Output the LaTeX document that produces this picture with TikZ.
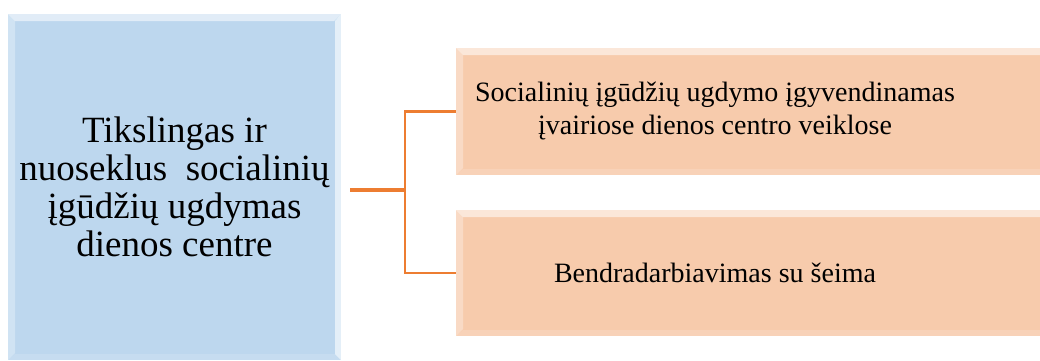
\documentclass[tikz,border=0pt]{standalone}
\usepackage{fontspec}
\setmainfont{Liberation Serif}
\usetikzlibrary{calc}
\definecolor{goalblue}{RGB}{189,215,238}
\definecolor{partpeach}{RGB}{247,203,172}
\definecolor{linkorange}{RGB}{237,125,49}
\tikzset{
  bevelbox/.style={inner sep=0pt,align=center,
    path picture={
      \fill[white,opacity=0.55] (path picture bounding box.north west) -- (path picture bounding box.north east)
        -- ([xshift=-7pt,yshift=-7pt]path picture bounding box.north east) -- ([xshift=7pt,yshift=-7pt]path picture bounding box.north west) -- cycle;
      \fill[white,opacity=0.3] (path picture bounding box.north west) -- ([xshift=7pt,yshift=-7pt]path picture bounding box.north west)
        -- ([xshift=7pt,yshift=7pt]path picture bounding box.south west) -- (path picture bounding box.south west) -- cycle;
      \fill[white,opacity=0.6] (path picture bounding box.north east) -- ([xshift=-6pt,yshift=-7pt]path picture bounding box.north east)
        -- ([xshift=-6pt,yshift=6pt]path picture bounding box.south east) -- (path picture bounding box.south east) -- cycle;
      \fill[white,opacity=0.15] (path picture bounding box.south west) -- ([xshift=7pt,yshift=6pt]path picture bounding box.south west)
        -- ([xshift=-6pt,yshift=6pt]path picture bounding box.south east) -- (path picture bounding box.south east) -- cycle;
    }},
  goalbox/.style={bevelbox,fill=goalblue,minimum width=333pt,minimum height=346pt,
    font=\fontsize{37}{38}\selectfont},
  partbox/.style={bevelbox,fill=partpeach,minimum width=600pt,minimum height=127pt},
  parttext/.style={align=center,inner sep=0pt,font=\fontsize{28}{33}\selectfont},
  link/.style={draw=linkorange,line width=2.3pt}
}
\begin{document}
\begin{tikzpicture}[x=1pt,y=-1pt]
\useasboundingbox (0,0) rectangle (1040,360);
\node[goalbox] (goal) at (174.5,187) {Tikslingas ir\\ nuoseklus\ \ socialinių\\ įgūdžių ugdymas\\ dienos centre};
\node[partbox] (activities) at (756,111.5) {};
\node[parttext] (activitiestext) at (715,111.5) {Socialinių įgūdžių ugdymo įgyvendinamas\\ įvairiose dienos centro veiklose};
\node[partbox,minimum height=126pt] (family) at (756,273) {};
\node[parttext] (familytext) at (715,273) {Bendradarbiavimas\ su šeima};
\coordinate (split) at (405,190);
\draw[link,line width=3.5pt] ([xshift=9pt]goal.east |- split) -- (split);
\draw[link] (activities.west) -| (split) |- (family.west);
\end{tikzpicture}
\end{document}
